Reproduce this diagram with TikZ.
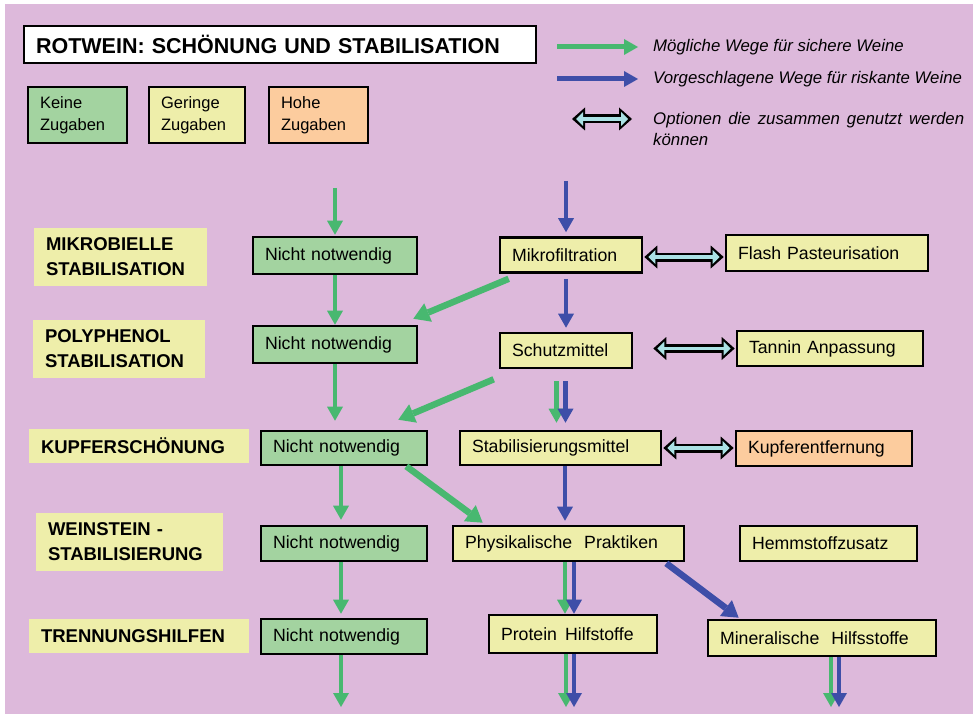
\documentclass[tikz,border=0pt]{standalone}
\usepackage{fontspec}
\setmainfont{Liberation Sans}
\usetikzlibrary{arrows.meta,calc}
\definecolor{bg}{RGB}{221,185,219}
\definecolor{gfill}{RGB}{163,211,160}
\definecolor{yfill}{RGB}{238,238,170}
\definecolor{ofill}{RGB}{252,204,158}
\definecolor{garr}{RGB}{72,184,112}
\definecolor{barr}{RGB}{62,78,168}
\definecolor{cyanf}{RGB}{170,225,228}
\begin{document}
\begin{tikzpicture}[x=1pt,y=-1pt,
  sz/.code 2 args={\pgfmathsetmacro\bw{#1}\pgfmathsetmacro\tw{#1-24}\pgfmathsetmacro\bh{#2}%
    \edef\tmp{\noexpand\tikzset{minimum width=\bw pt,minimum height=\bh pt,text width=\tw pt}}\tmp},
  box/.style={draw=black,line width=2.6pt,inner xsep=12pt,inner ysep=0pt,align=left,
    font=\fontsize{17.7}{21}\selectfont},
  gbox/.style={box,fill=gfill},
  ybox/.style={box,fill=yfill},
  obox/.style={box,fill=ofill},
  lbox/.style={box,font=\fontsize{16.5}{22}\selectfont,inner xsep=11pt},
  titlebox/.style={box,fill=white,font=\bfseries\fontsize{21.5}{26}\selectfont,inner xsep=11pt},
  lab/.style={fill=yfill,inner xsep=12pt,inner ysep=0pt,align=left,
    font=\bfseries\fontsize{18.5}{25}\selectfont},
  ltext/.style={inner sep=0pt,font=\itshape\fontsize{16.8}{21}\selectfont},
  ga/.style={draw=garr,line width=4.5pt,-{Triangle[length=14pt,width=16pt,line width=0pt]}},
  ba/.style={draw=barr,line width=4.5pt,-{Triangle[length=14pt,width=16pt,line width=0pt]}},
  gd/.style={draw=garr,line width=6.5pt,-{Triangle[length=16pt,width=20pt,line width=0pt]}},
  bd/.style={draw=barr,line width=6.5pt,-{Triangle[length=16pt,width=20pt,line width=0pt]}},
  dao/.style={draw=black,line width=9pt,
    {Triangle[length=13pt,width=23pt,line width=0pt]}-{Triangle[length=13pt,width=23pt,line width=0pt]}},
  dai/.style={draw=cyanf,line width=3.6pt,shorten <=4pt,shorten >=4pt,
    {Triangle[length=7pt,width=14pt,line width=0pt]}-{Triangle[length=7pt,width=14pt,line width=0pt]}}
]
\fill[white] (0,0) rectangle (979,714);
\useasboundingbox (0,0) rectangle (979,714);
\fill[bg] (5,4) rectangle (973,714);

% title and legend
\node[titlebox,sz={512}{37}] (title) at (280,44.5) {ROTWEIN: SCHÖNUNG UND STABILISATION};
\node[lbox,fill=gfill,sz={99}{56}] (kz) at (77.5,115) {Keine\\Zugaben};
\node[lbox,fill=yfill,sz={96}{56}] (gz) at (197,115) {Geringe\\Zugaben};
\node[lbox,fill=ofill,sz={99}{56}] (hz) at (318.5,115) {Hohe\\Zugaben};

\coordinate (lg1) at (557,47); \coordinate (lg2) at (638,47);
\coordinate (lb1) at (557,79); \coordinate (lb2) at (638,79);
\coordinate (ld1) at (572,119); \coordinate (ld2) at (632,119);
\draw[ga,line width=5pt] (lg1) -- (lg2);
\draw[ba,line width=5pt] (lb1) -- (lb2);
\draw[dao] (ld1) -- (ld2);
\draw[dai] (ld1) -- (ld2);
\node[ltext,anchor=west] (t1) at (653,47) {Mögliche Wege für sichere Weine};
\node[ltext,anchor=west] (t2) at (653,79) {Vorgeschlagene Wege für riskante Weine};
\node[ltext,anchor=north west,text width=311pt,align=justify] (t3) at (653,112)
  {Optionen die zusammen genutzt werden können};

% row labels
\node[lab,sz={173}{58}] (l1) at (120.5,257) {MIKROBIELLE\\STABILISATION};
\node[lab,sz={172}{58}] (l2) at (119,349) {POLYPHENOL\\STABILISATION};
\node[lab,sz={220}{34}] (l3) at (139,446) {KUPFERSCHÖNUNG};
\node[lab,sz={187}{58}] (l4) at (129.5,542) {WEINSTEIN -\\STABILISIERUNG};
\node[lab,sz={220}{34}] (l5) at (139,636) {TRENNUNGSHILFEN};

% boxes
\node[gbox,sz={164}{37}] (n1) at (335,255.5) {Nicht notwendig};
\node[ybox,sz={142}{35}] (mikro) at (571,255) {Mikrofiltration};
\node[ybox,sz={202}{36}] (flash) at (827,253) {Flash Pasteurisation};
\node[gbox,sz={164}{37}] (n2) at (335,344.5) {Nicht notwendig};
\node[ybox,sz={132}{35}] (schutz) at (566,350.5) {Schutzmittel};
\node[ybox,sz={186}{35}] (tannin) at (830,348.5) {Tannin Anpassung};
\node[gbox,sz={166}{34}] (n3) at (344,448) {Nicht notwendig};
\node[ybox,sz={201}{34}] (stab) at (560.5,448) {Stabilisierungsmittel};
\node[obox,sz={176}{35}] (kupfer) at (824,448.5) {Kupferentfernung};
\node[gbox,sz={166}{35}] (n4) at (344,543.5) {Nicht notwendig};
\node[ybox,sz={231}{35}] (phys) at (568.5,543.5) {Physikalische\hspace{12pt}Praktiken};
\node[ybox,sz={177}{35}] (hemm) at (828.5,543.5) {Hemmstoffzusatz};
\node[gbox,sz={166}{35}] (n5) at (344,636.5) {Nicht notwendig};
\node[ybox,sz={168}{38}] (prot) at (573,634) {Protein\hspace{8pt}Hilfstoffe};
\node[ybox,sz={228}{36}] (mineral) at (822,638) {Mineralische\hspace{12pt}Hilfsstoffe};

% free ends
\coordinate (gtop) at (335,188);
\coordinate (btop) at (566,181);
\coordinate (e1) at (341,707);
\coordinate (e2g) at (566,707);
\coordinate (e2b) at (574,707);
\coordinate (e3g) at (831,707);
\coordinate (e3b) at (839,707);

% green paths
\draw[ga] (gtop) -- ($(n1.north)+(0,-1)$);
\draw[ga] (n1.south) -- (n2.north);
\draw[gd] ($(mikro.south west)+(10,5)$) -- ($(n2.north east)+(-5,-6)$);
\draw[ga] (n2.south) -- ($(n2.south |- n3.north)+(0,-9)$);
\draw[gd] ($(schutz.south west)+(-5,10)$) -- ($(n3.north east)+(-30,-10)$);
\draw[ga] ($(stab.north |- schutz.south)+(-4,12)$) -- ($(stab.north)+(-4,-7)$);
\draw[ga] ($(n3.south)+(-3,0)$) -- ($(n3.south |- n4.north)+(-3,-5)$);
\draw[gd] ($(n3.south east)+(-22,0)$) -- ($(phys.north west)+(31,-2)$);
\draw[ga] ($(n4.south)+(-3,0)$) -- ($(n4.south |- n5.north)+(-3,-4)$);
\draw[ga] ($(phys.south)+(-3.5,0)$) -- ($(phys.south |- prot.north)+(-3.5,0)$);
\draw[ga] ($(n5.south)+(-3,0)$) -- (e1);
\draw[ga] (e2g |- prot.south) -- (e2g);
\draw[ga] (e3g |- mineral.south) -- (e3g);

% blue paths
\draw[ba] (btop) -- ($(btop |- mikro.north)+(0,-4)$);
\draw[ba] ($(schutz.north |- mikro.south)+(0,5)$) -- ($(schutz.north)+(0,-4)$);
\draw[ba] ($(stab.north |- schutz.south)+(5,12)$) -- ($(stab.north)+(5,-7)$);
\draw[ba] ($(stab.south)+(4.5,0)$) -- ($(stab.south |- phys.north)+(4.5,-4)$);
\draw[ba] ($(phys.south)+(5.5,0)$) -- ($(phys.south |- prot.north)+(5.5,0)$);
\draw[bd] ($(phys.south east)+(-19,1)$) -- ($(mineral.north west)+(32,-1)$);
\draw[ba] (e2b |- prot.south) -- (e2b);
\draw[ba] (e3b |- mineral.south) -- (e3b);

% double arrows (options used together)
\draw[dao] ($(mikro.east)+(1,2)$) -- ($(mikro.east -| flash.west)+(-1,2)$);
\draw[dai] ($(mikro.east)+(1,2)$) -- ($(mikro.east -| flash.west)+(-1,2)$);
\draw[dao] ($(schutz.east)+(20,-2)$) -- ($(schutz.east -| tannin.west)+(-1,-2)$);
\draw[dai] ($(schutz.east)+(20,-2)$) -- ($(schutz.east -| tannin.west)+(-1,-2)$);
\draw[dao] ($(stab.east)+(1,0)$) -- ($(stab.east -| kupfer.west)+(-1,0)$);
\draw[dai] ($(stab.east)+(1,0)$) -- ($(stab.east -| kupfer.west)+(-1,0)$);
\end{tikzpicture}
\end{document}
